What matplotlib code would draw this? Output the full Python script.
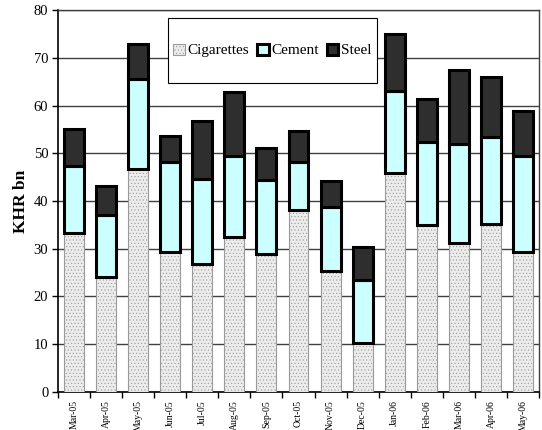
import matplotlib
matplotlib.use("Agg")
import matplotlib.pyplot as plt
from matplotlib.patches import Rectangle
import numpy as np

months = ["Mar-05", "Apr-05", "May-05", "Jun-05", "Jul-05", "Aug-05", "Sep-05",
          "Oct-05", "Nov-05", "Dec-05", "Jan-06", "Feb-06", "Mar-06", "Apr-06", "May-06"]
cigarettes = [33.4, 24.0, 46.8, 29.4, 26.9, 32.4, 29.0, 38.1, 25.3, 10.2, 45.9, 35.0, 31.3, 35.2, 29.3]
cement = [14.0, 13.0, 18.7, 18.8, 17.8, 17.0, 15.5, 10.1, 13.5, 13.3, 17.1, 17.4, 20.6, 18.3, 20.1]
steel = [7.6, 6.1, 7.3, 5.5, 12.1, 13.4, 6.6, 6.5, 5.4, 6.8, 11.9, 9.0, 15.5, 12.5, 9.4]

plt.rcParams['font.family'] = ['Liberation Serif', 'DejaVu Serif']
plt.rcParams['hatch.linewidth'] = 0.4

fig = plt.figure(figsize=(5.42, 4.30), dpi=100)
ax = fig.add_axes([0.107, 0.0884, 0.8875, 0.8883])

x = np.arange(len(months))
w = 0.62
cig = np.array(cigarettes)
cem = np.array(cement)
stl = np.array(steel)

ax.bar(x, cig, w, color='#ececec', edgecolor='#9a9a9a', linewidth=0.8,
       hatch='.....', label='Cigarettes', zorder=3)
ax.bar(x, cem, w, bottom=cig, color='#ccffff', edgecolor='black', linewidth=2.2,
       label='Cement', zorder=3)
ax.bar(x, stl, w, bottom=cig + cem, color='#2e2e2e', edgecolor='black', linewidth=2.2,
       label='Steel', zorder=3)

ax.set_xlim(-0.5, len(months) - 0.5)
ax.set_ylim(0, 80)
ax.set_yticks(np.arange(0, 81, 10))
ax.tick_params(axis='y', labelsize=10.5, direction='out', length=4, width=1, pad=3)
ax.yaxis.grid(True, color='#404040', linewidth=1, zorder=0)
ax.set_axisbelow(True)

ax.set_xticks(x)
ax.set_xticklabels(months, rotation=90, fontsize=7)
ax.tick_params(axis='x', length=0, pad=6)
ax.set_xticks(np.arange(-0.5, len(months), 1), minor=True)
ax.tick_params(axis='x', which='minor', length=4, width=1, direction='out')

for s in ['top', 'right']:
    ax.spines[s].set_color('#404040')
    ax.spines[s].set_linewidth(1)
for s in ['left', 'bottom']:
    ax.spines[s].set_color('black')
    ax.spines[s].set_linewidth(1.2)

ax.set_ylabel('KHR bn', fontsize=12.5, fontweight='bold', labelpad=3)

# legend box
box = Rectangle((168 / 542, 1 - 83 / 430), (377 - 168) / 542, (83 - 18) / 430,
                transform=fig.transFigure, facecolor='white', edgecolor='black',
                linewidth=0.8, zorder=4)
fig.add_artist(box)
leg = fig.legend(*ax.get_legend_handles_labels(), loc='center',
                 bbox_to_anchor=((168 + 377) / 2 / 542, 1 - 50.5 / 430),
                 ncol=3, fontsize=11, frameon=False, handlelength=0.75,
                 handleheight=0.75, handletextpad=0.2, columnspacing=0.5,
                 borderpad=0, borderaxespad=0)
leg.set_zorder(5)

fig.savefig('out.png', dpi=100)
